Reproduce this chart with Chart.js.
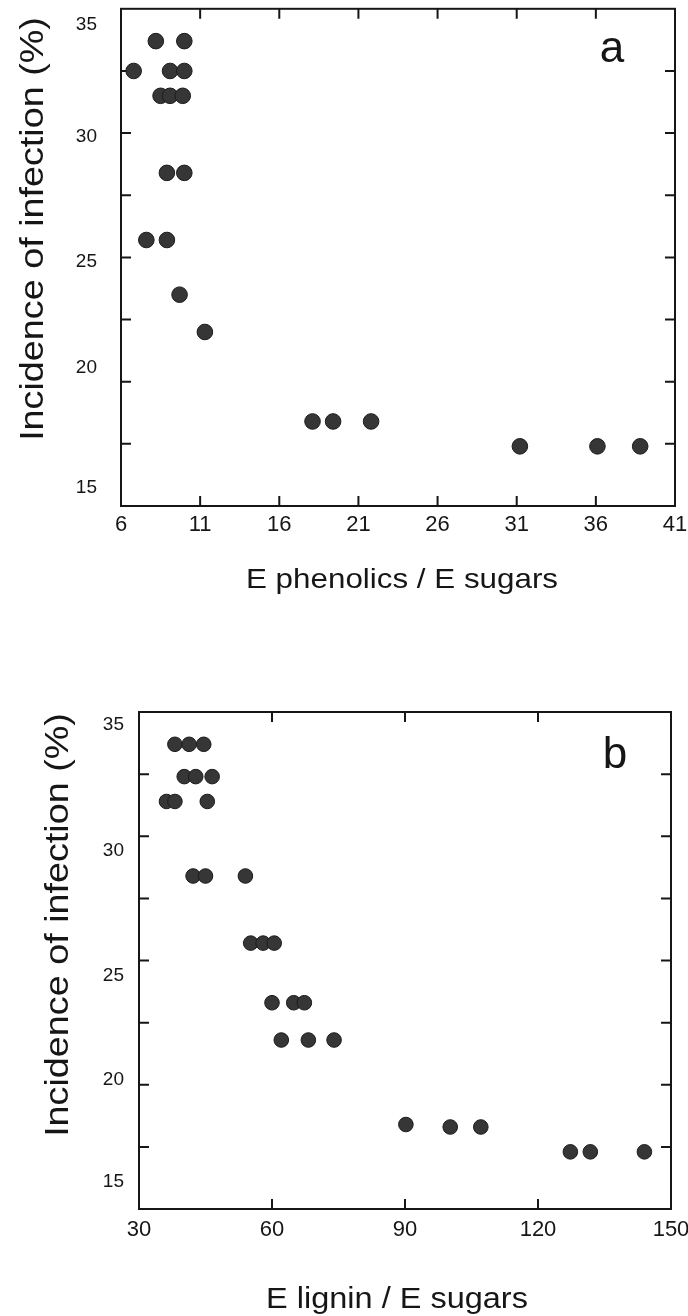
<!DOCTYPE html>
<html>
<head>
<meta charset="utf-8">
<script src="https://cdn.jsdelivr.net/npm/chart.js@4.4.1/dist/chart.umd.min.js"></script>
<style>
  html, body { margin: 0; padding: 0; background: #fff; }
  body { width: 688px; height: 1316px; position: relative; overflow: hidden; }
  canvas { position: absolute; left: 0; }
  #chartA { top: 0; }
  #chartB { top: 640px; }
</style>
</head>
<body>
<canvas id="chartA" width="688" height="640"></canvas>
<canvas id="chartB" width="688" height="676"></canvas>
<script>
// (a) incidence vs E phenolics / E sugars
const phenolicsRatio = [8.2, 10.0, 6.8, 9.1, 10.0, 8.5, 9.1, 9.9, 8.9, 10.0, 7.6, 8.9, 9.7, 11.3, 18.1, 19.4, 21.8, 31.2, 36.1, 38.8];
const incidenceA     = [33.7, 33.7, 32.5, 32.5, 32.5, 31.5, 31.5, 31.5, 28.4, 28.4, 25.7, 25.7, 23.5, 22.0, 18.4, 18.4, 18.4, 17.4, 17.4, 17.4];

// (b) incidence vs E lignin / E sugars
const ligninRatio = [38.1, 41.3, 44.6, 40.2, 42.8, 46.5, 36.2, 38.1, 45.4, 42.2, 45.0, 54.0, 55.2, 58.0, 60.5,
                     60.0, 64.9, 67.3, 62.1, 68.2, 74.0, 90.2, 100.2, 107.1, 127.3, 131.8, 144.0];
const incidenceB  = [33.7, 33.7, 33.7, 32.4, 32.4, 32.4, 31.4, 31.4, 31.4, 28.4, 28.4, 28.4, 25.7, 25.7, 25.7,
                     23.3, 23.3, 23.3, 21.8, 21.8, 21.8, 18.4, 18.3, 18.3, 17.3, 17.3, 17.3];

// axes
const incidenceRange = [15, 35];
const incidenceLabels = [15, 20, 25, 30, 35];
const phenolicsRange = [6, 41];
const ligninRange = [30, 150];

const FONT = '"Liberation Sans", Arial, Helvetica, sans-serif';
const INK = '#161616';

function stretchedText(ctx, text, x, y, size, sx, vertical) {
    ctx.save();
    ctx.translate(x, y);
    if (vertical) ctx.rotate(-Math.PI / 2);
    ctx.scale(sx, 1);
    ctx.font = `${size}px ${FONT}`;
    ctx.fillStyle = INK;
    ctx.textAlign = 'center';
    ctx.textBaseline = 'alphabetic';
    ctx.fillText(text, 0, 0);
    ctx.restore();
}

// boxed frame, inward ticks on all four sides, y labels, titles, panel letter
const figureDecor = {
    id: 'figureDecor',
    beforeDatasetsDraw(chart, args, o) {
        const { ctx, chartArea: a, scales: { x, y } } = chart;
        ctx.save();
        ctx.strokeStyle = INK;
        ctx.lineWidth = 2;
        ctx.strokeRect(a.left, a.top, a.width, a.height);

        ctx.beginPath();
        x.ticks.forEach(t => {
            const px = x.getPixelForValue(t.value);
            if (px <= a.left + 1 || px >= a.right - 1) return;
            ctx.moveTo(px, a.bottom); ctx.lineTo(px, a.bottom - o.tickLen);
            ctx.moveTo(px, a.top); ctx.lineTo(px, a.top + o.tickLen);
        });
        y.ticks.forEach(t => {
            const py = y.getPixelForValue(t.value);
            if (py <= a.top + 1 || py >= a.bottom - 1) return;
            ctx.moveTo(a.left, py); ctx.lineTo(a.left + o.tickLen, py);
            ctx.moveTo(a.right, py); ctx.lineTo(a.right - o.tickLen, py);
        });
        ctx.stroke();

        ctx.fillStyle = INK;
        ctx.font = `19px ${FONT}`;
        ctx.textAlign = 'right';
        ctx.textBaseline = 'middle';
        incidenceLabels.forEach(v => {
            ctx.fillText(String(v), a.left - o.yLabelGap, y.getPixelForValue(v) + (o.yLabelShift[v] || 0));
        });

        stretchedText(ctx, o.xTitle, o.xTitleAt[0], o.xTitleAt[1], o.xTitleSize, 1.12, false);
        stretchedText(ctx, 'Incidence of infection (%)', o.yTitleAt[0], o.yTitleAt[1], 34, 1.11, true);

        ctx.font = `44px ${FONT}`;
        ctx.textAlign = 'center';
        ctx.textBaseline = 'alphabetic';
        ctx.fillText(o.letter, o.letterAt[0], o.letterAt[1]);
        ctx.restore();
    }
};

function makePanel(canvasId, xs, ys, xRange, xStep, cfg) {
    return new Chart(document.getElementById(canvasId), {
        type: 'scatter',
        data: {
            datasets: [{
                data: xs.map((v, i) => ({ x: v, y: ys[i] })),
                backgroundColor: '#363636',
                borderColor: '#1b1b1b',
                borderWidth: 1,
                pointRadius: cfg.radius,
                pointHoverRadius: cfg.radius
            }]
        },
        options: {
            responsive: false,
            animation: false,
            events: [],
            layout: { padding: cfg.padding },
            plugins: {
                legend: { display: false },
                tooltip: { enabled: false },
                figureDecor: cfg.decor
            },
            scales: {
                x: {
                    type: 'linear',
                    min: xRange[0],
                    max: xRange[1],
                    grid: { display: false, drawTicks: false },
                    border: { display: false },
                    ticks: { stepSize: xStep, color: INK, padding: cfg.xLabelPad, font: { size: 22, family: FONT } },
                    afterFit: s => { s.height = cfg.xAxisHeight; s.paddingRight = 0; s.paddingLeft = 0; }
                },
                y: {
                    min: incidenceRange[0],
                    max: incidenceRange[1],
                    grid: { display: false, drawTicks: false },
                    border: { display: false },
                    ticks: { stepSize: 2.5, display: false },
                    afterFit: s => { s.width = cfg.yAxisWidth; }
                }
            }
        },
        plugins: [figureDecor]
    });
}

makePanel('chartA', phenolicsRatio, incidenceA, phenolicsRange, 5, {
    radius: 7.8,
    padding: { top: 6, right: 13, left: 0, bottom: 0 },
    yAxisWidth: 121,
    xAxisHeight: 134,
    xLabelPad: 6,
    decor: {
        tickLen: 10,
        yLabelGap: 24,
        yLabelShift: { 35: 16, 30: 4, 25: 4, 20: -14, 15: -18 },
        xTitle: 'E phenolics / E sugars',
        xTitleSize: 28,
        xTitleAt: [402, 588],
        yTitleAt: [43, 229],
        letter: 'a',
        letterAt: [612, 62]
    }
});

makePanel('chartB', ligninRatio, incidenceB, ligninRange, 30, {
    radius: 7.3,
    padding: { top: 72, right: 17, left: 0, bottom: 0 },
    yAxisWidth: 139,
    xAxisHeight: 107,
    xLabelPad: 8,
    decor: {
        tickLen: 10,
        yLabelGap: 15,
        yLabelShift: { 35: 13, 30: 15, 25: 15, 20: -5, 15: -27 },
        xTitle: 'E lignin / E sugars',
        xTitleSize: 29,
        xTitleAt: [397, 668],
        yTitleAt: [68, 285],
        letter: 'b',
        letterAt: [615, 128]
    }
});
</script>
</body>
</html>
